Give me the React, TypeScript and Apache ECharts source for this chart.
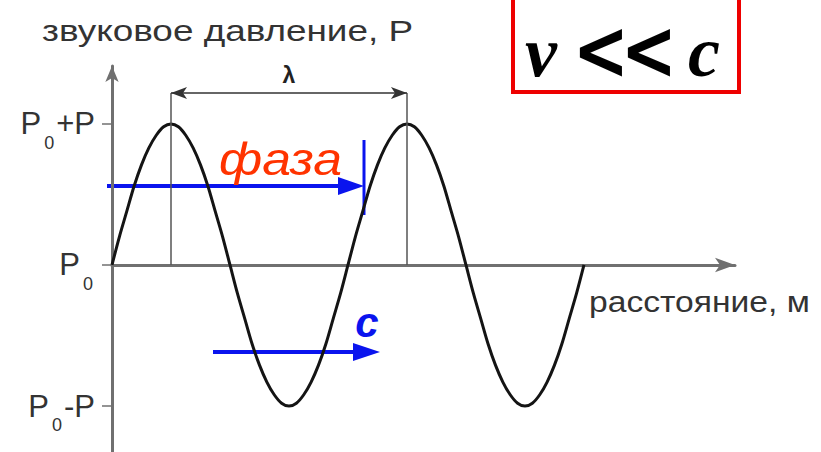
import React, { useEffect, useRef } from "react";
import * as echarts from "echarts";

// distance in quarter-wavelength units, pressure relative to amplitude P
const distance = [
  0, 0.125, 0.25, 0.375, 0.5, 0.625, 0.75, 0.875,
  1, 1.125, 1.25, 1.375, 1.5, 1.625, 1.75, 1.875,
  2, 2.125, 2.25, 2.375, 2.5, 2.625, 2.75, 2.875,
  3, 3.125, 3.25, 3.375, 3.5, 3.625, 3.75, 3.875,
  4, 4.125, 4.25, 4.375, 4.5, 4.625, 4.75, 4.875,
  5, 5.125, 5.25, 5.375, 5.5, 5.625, 5.75, 5.875,
  6, 6.125, 6.25, 6.375, 6.5, 6.625, 6.75, 6.875,
  7, 7.125, 7.25, 7.375, 7.5, 7.625, 7.75, 7.875,
  8,
];
const pressure = [
  0, 0.2, 0.38, 0.56, 0.71, 0.83, 0.92, 0.98,
  1, 0.98, 0.92, 0.83, 0.71, 0.56, 0.38, 0.2,
  0, -0.2, -0.38, -0.56, -0.71, -0.83, -0.92, -0.98,
  -1, -0.98, -0.92, -0.83, -0.71, -0.56, -0.38, -0.2,
  0, 0.2, 0.38, 0.56, 0.71, 0.83, 0.92, 0.98,
  1, 0.98, 0.92, 0.83, 0.71, 0.56, 0.38, 0.2,
  0, -0.2, -0.38, -0.56, -0.71, -0.83, -0.92, -0.98,
  -1, -0.98, -0.92, -0.83, -0.71, -0.56, -0.38, -0.2,
  0,
];
const pressureTicks = [-1, 0, 1];
const pressureTickSuffix = ["-P", "", "+P"];
const wavelengthStart = 1;
const wavelengthEnd = 5;
const wavelengthLevel = 1.22;
const yTitle = "звуковое давление, P";
const xTitle = "расстояние, м";
const phaseLabel = "фаза";
const speedLabel = "c";
const relationParts = ["v", "<", "<", "c"];
const wavelengthLabel = "λ";

const SANS = '"Liberation Sans", Arial, Helvetica, sans-serif';
const SERIF = '"Liberation Serif", "Times New Roman", serif';
const BLUE = "#0a14ee";

export default function App() {
  const ref = useRef<HTMLDivElement>(null);

  useEffect(() => {
    if (!ref.current) return;
    const chart = echarts.init(ref.current, null, { renderer: "svg" });
    const axisColor = "#707070";
    const option: any = {
      animation: false,
      backgroundColor: "#ffffff",
      grid: { left: 112, width: 623, top: 66, height: 386, containLabel: false, outerBoundsMode: "none" },
      xAxis: {
        type: "value",
        min: 0,
        max: 10.56,
        axisLine: {
          show: true,
          onZero: true,
          symbol: ["none", "arrow"],
          symbolSize: [11, 20],
          lineStyle: { color: axisColor, width: 3 },
        },
        axisTick: { show: false },
        axisLabel: { show: false },
        splitLine: { show: false },
      },
      yAxis: {
        type: "value",
        min: -1.326,
        max: 1.411,
        axisLine: {
          show: true,
          onZero: true,
          symbol: ["none", "arrow"],
          symbolSize: [10, 16],
          lineStyle: { color: axisColor, width: 3 },
        },
        axisTick: {
          show: true,
          length: 10,
          customValues: pressureTicks,
          lineStyle: { color: axisColor, width: 1.5 },
        },
        axisLabel: {
          show: true,
          margin: 17,
          customValues: pressureTicks,
          formatter: (v: number) => {
            const i = pressureTicks.indexOf(v);
            const suffix = i >= 0 ? pressureTickSuffix[i] : "";
            return "{p|P}{s|0}" + (suffix ? "{p|" + suffix + "}" : "");
          },
          rich: {
            p: { fontSize: 31, fontFamily: SANS, color: "#333", lineHeight: 56 },
            s: {
              fontSize: 18,
              fontFamily: SANS,
              color: "#333",
              lineHeight: 18,
              verticalAlign: "bottom",
              padding: [0, 2, 0, 3],
            },
          },
        },
        splitLine: { show: false },
      },
      series: [
        {
          type: "line",
          data: distance.map((d, i) => [d, pressure[i]]),
          smooth: 0.3,
          symbol: "none",
          lineStyle: { color: "#141414", width: 3 },
          markLine: {
            silent: true,
            symbol: ["none", "none"],
            label: { show: false },
            lineStyle: { color: "#555", width: 1.5, type: "solid" },
            data: [
              [{ coord: [wavelengthStart, 0] }, { coord: [wavelengthStart, wavelengthLevel] }],
              [{ coord: [wavelengthEnd, 0] }, { coord: [wavelengthEnd, wavelengthLevel] }],
              [
                {
                  coord: [wavelengthStart, wavelengthLevel],
                  symbol: "arrow",
                  symbolSize: [9, 16],
                  label: {
                    show: true,
                    position: "middle",
                    formatter: wavelengthLabel,
                    fontSize: 23,
                    fontWeight: "bold",
                    fontFamily: SANS,
                    color: "#222",
                    distance: 6,
                  },
                  lineStyle: { color: "#333", width: 1.5, type: "solid" },
                },
                { coord: [wavelengthEnd, wavelengthLevel], symbol: "arrow", symbolSize: [9, 16] },
              ],
            ],
          },
        },
      ],
      graphic: [
        {
          type: "text",
          x: 42,
          y: 31,
          scaleX: 1.23,
          style: { text: yTitle, font: `30px ${SANS}`, fill: "#333", verticalAlign: "middle" },
        },
        {
          type: "text",
          x: 589,
          y: 302,
          scaleX: 1.16,
          style: { text: xTitle, font: `29px ${SANS}`, fill: "#333", verticalAlign: "middle" },
        },
        // phase arrow
        {
          type: "line",
          shape: { x1: 107, y1: 186, x2: 342, y2: 186 },
          style: { stroke: BLUE, lineWidth: 4 },
        },
        {
          type: "polygon",
          shape: { points: [[338, 177], [364, 186], [338, 195]] },
          style: { fill: BLUE },
        },
        {
          type: "line",
          shape: { x1: 364, y1: 140, x2: 364, y2: 215 },
          style: { stroke: BLUE, lineWidth: 3 },
        },
        {
          type: "text",
          x: 219,
          y: 158,
          scaleX: 1.1,
          style: {
            text: phaseLabel,
            font: `italic 47px ${SANS}`,
            fill: "#ff3300",
            verticalAlign: "middle",
          },
        },
        // speed arrow
        {
          type: "line",
          shape: { x1: 213, y1: 352, x2: 358, y2: 352 },
          style: { stroke: BLUE, lineWidth: 4 },
        },
        {
          type: "polygon",
          shape: { points: [[353, 343], [380, 352], [353, 361]] },
          style: { fill: BLUE },
        },
        {
          type: "text",
          x: 367,
          y: 322,
          style: {
            text: speedLabel,
            font: `italic bold 42px ${SANS}`,
            fill: BLUE,
            align: "center",
            verticalAlign: "middle",
          },
        },
        // relation box
        {
          type: "rect",
          shape: { x: 513, y: -3, width: 226, height: 95 },
          style: { fill: "none", stroke: "#ee0000", lineWidth: 4 },
        },
        {
          type: "text",
          x: 525,
          y: 52,
          style: {
            text: relationParts[0],
            font: `italic bold 72px ${SERIF}`,
            fill: "#000",
            verticalAlign: "middle",
          },
        },
        {
          type: "text",
          x: 601,
          y: 50,
          scaleX: 0.8,
          style: {
            text: relationParts[1],
            font: `bold 84px "DejaVu Sans", sans-serif`,
            fill: "#000",
            align: "center",
            verticalAlign: "middle",
          },
        },
        {
          type: "text",
          x: 649,
          y: 50,
          scaleX: 0.8,
          style: {
            text: relationParts[2],
            font: `bold 84px "DejaVu Sans", sans-serif`,
            fill: "#000",
            align: "center",
            verticalAlign: "middle",
          },
        },
        {
          type: "text",
          x: 688,
          y: 52,
          style: {
            text: relationParts[3],
            font: `italic bold 72px ${SERIF}`,
            fill: "#000",
            verticalAlign: "middle",
          },
        },
      ],
    };
    chart.setOption(option);
    return () => chart.dispose();
  }, []);

  return (
    <div
      ref={ref}
      style={{ width: 821, height: 452, position: "fixed", left: 0, top: 0, background: "#fff" }}
    />
  );
}
